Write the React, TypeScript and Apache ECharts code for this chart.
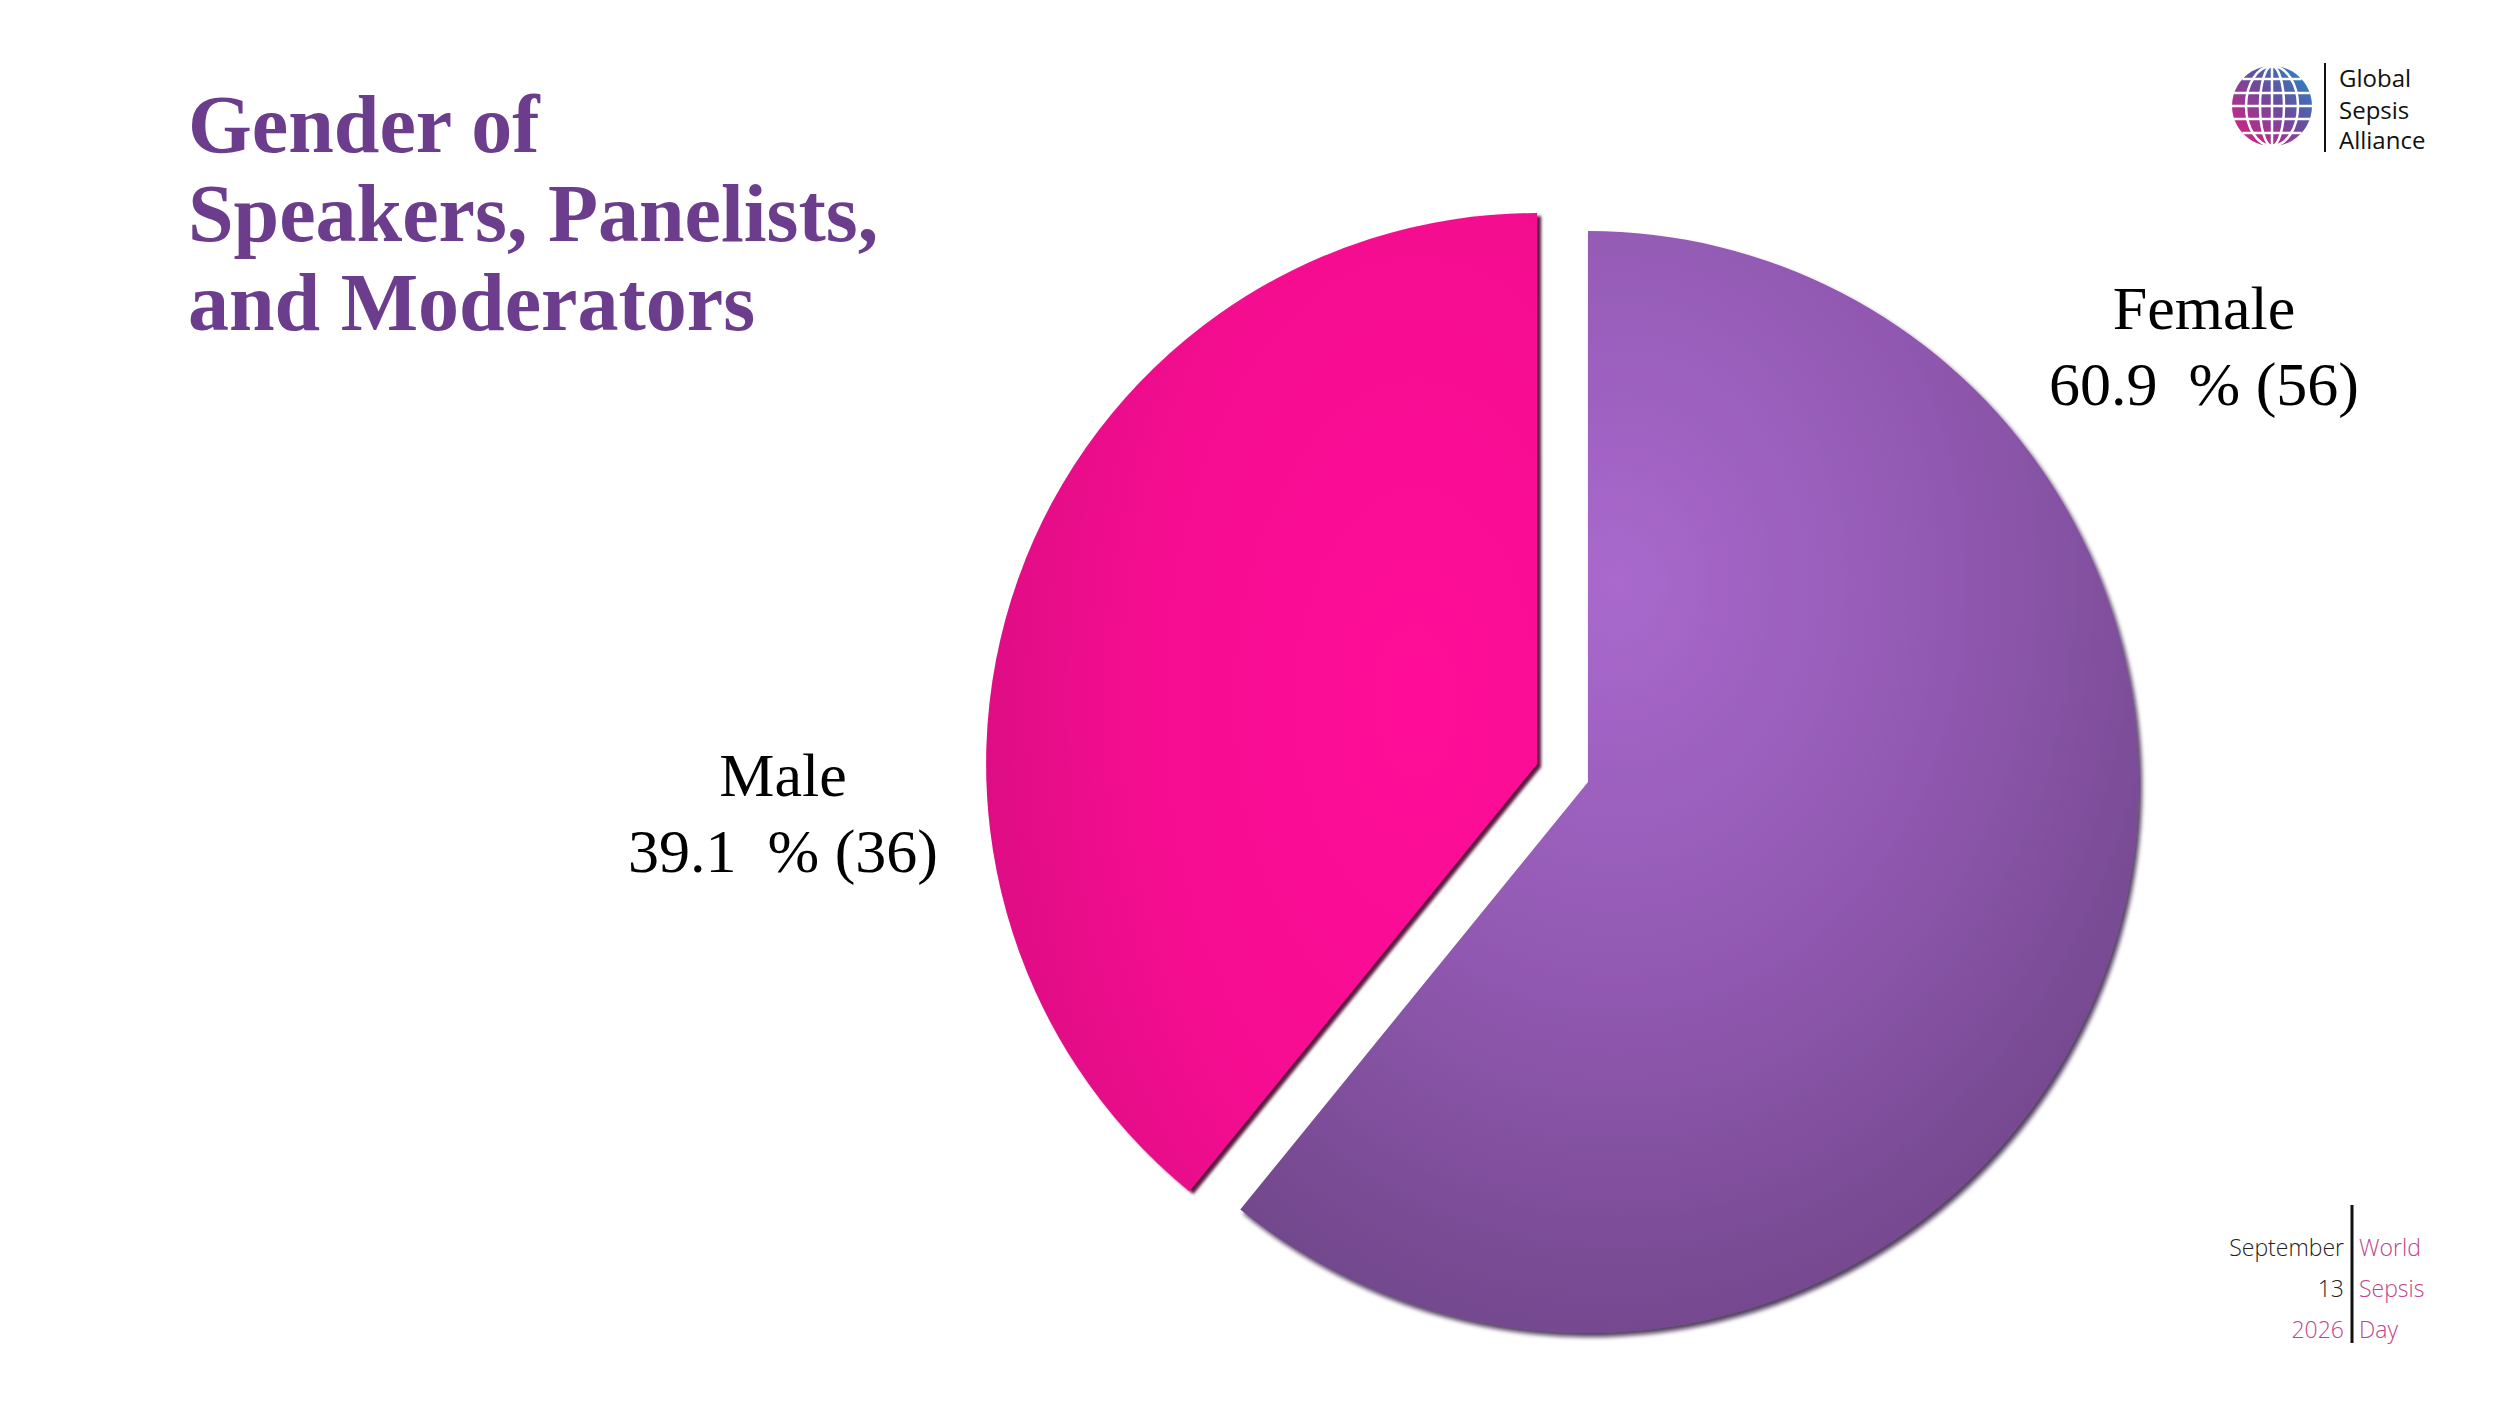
import React, { useEffect, useRef } from "react";
import * as echarts from "echarts";

// ---- data ----
const categories = ["Female", "Male"];
const counts = [56, 36];
const explodedCategory = "Male";
const titleLines = ["Gender of", "Speakers, Panelists,", "and Moderators"];
const logoLines = ["Global", "Sepsis", "Alliance"];
const dateLines = ["September", "13", "2026"];
const eventLines = ["World", "Sepsis", "Day"];

// ---- styles ----
const sliceStyles: any[] = [
  {
    color: {
      type: "radial",
      x: 0.42,
      y: 0.32,
      r: 0.85,
      colorStops: [
        { offset: 0, color: "#A969CD" },
        { offset: 0.45, color: "#9058B0" },
        { offset: 1, color: "#65407C" },
      ],
    },
    shadowColor: "rgba(40,15,55,0.8)",
    shadowBlur: 4,
    shadowOffsetX: 3,
    shadowOffsetY: 4,
  },
  {
    color: {
      type: "radial",
      x: 0.78,
      y: 0.5,
      r: 0.9,
      colorStops: [
        { offset: 0, color: "#FF0A98" },
        { offset: 0.55, color: "#F50A90" },
        { offset: 1, color: "#D60880" },
      ],
    },
    shadowColor: "rgba(70,0,40,0.9)",
    shadowBlur: 3,
    shadowOffsetX: 4,
    shadowOffsetY: 3,
  },
];

const labelAnchors = [
  { x: 2204, y: 346 },
  { x: 783, y: 813 },
];

function buildLabels(): any[] {
  const total = counts.reduce((a, b) => a + b, 0);
  return categories.map((name, i) => {
    const pct = (Math.round((counts[i] / total) * 1000) / 10).toFixed(1);
    return {
      type: "text",
      x: labelAnchors[i].x,
      y: labelAnchors[i].y,
      style: {
        text: `${name}\n${pct}  % (${counts[i]})`,
        font: "62px 'Liberation Serif'",
        lineHeight: 76,
        fill: "#000",
        align: "center",
        verticalAlign: "middle",
      },
    };
  });
}

function buildGlobe(): any[] {
  const cx = 2272;
  const cy = 106;
  const r = 40;
  const els: any[] = [
    {
      type: "circle",
      shape: { cx, cy, r },
      style: {
        fill: {
          type: "linear",
          x: 1,
          y: 0,
          x2: 0,
          y2: 1,
          colorStops: [
            { offset: 0, color: "#1B8FD0" },
            { offset: 0.45, color: "#6A4C9E" },
            { offset: 1, color: "#E8197E" },
          ],
        },
      },
    },
  ];
  [12, 26].forEach((rx) =>
    els.push({
      type: "ellipse",
      shape: { cx, cy, rx, ry: r },
      style: { fill: "none", stroke: "#fff", lineWidth: 2.5 },
    })
  );
  els.push({
    type: "line",
    shape: { x1: cx, y1: cy - r, x2: cx, y2: cy + r },
    style: { stroke: "#fff", lineWidth: 2.5 },
  });
  [-27, -13, 0, 13, 27].forEach((dy) => {
    const hw = Math.sqrt(r * r - dy * dy);
    els.push({
      type: "line",
      shape: { x1: cx - hw, y1: cy + dy, x2: cx + hw, y2: cy + dy },
      style: { stroke: "#fff", lineWidth: 2.5 },
    });
  });
  return els;
}

function buildGraphics(): any[] {
  const g: any[] = [...buildGlobe(), ...buildLabels()];
  g.push({
    type: "line",
    shape: { x1: 2325, y1: 63, x2: 2325, y2: 152 },
    style: { stroke: "#111", lineWidth: 2 },
  });
  const logoBase = [85, 117, 147];
  logoLines.forEach((t, i) =>
    g.push({
      type: "text",
      x: 2339,
      y: logoBase[i] - 8,
      style: {
        text: t,
        font: "24px 'Open Sans'",
        fill: "#111",
        align: "left",
        verticalAlign: "middle",
      },
    })
  );
  g.push({
    type: "line",
    shape: { x1: 2352, y1: 1205, x2: 2352, y2: 1343 },
    style: { stroke: "#111", lineWidth: 3 },
  });
  const footBase = [1255, 1296, 1337];
  const dateColors = ["#222", "#222", "#C0458A"];
  dateLines.forEach((t, i) =>
    g.push({
      type: "text",
      x: 2344,
      y: footBase[i] - 8,
      style: {
        text: t,
        font: "300 23px 'Open Sans'",
        fill: dateColors[i],
        align: "right",
        verticalAlign: "middle",
      },
    })
  );
  eventLines.forEach((t, i) =>
    g.push({
      type: "text",
      x: 2359,
      y: footBase[i] - 8,
      style: {
        text: t,
        font: "300 23px 'Open Sans'",
        fill: "#C0458A",
        align: "left",
        verticalAlign: "middle",
      },
    })
  );
  return g;
}

export default function App() {
  const ref = useRef<HTMLDivElement>(null);
  useEffect(() => {
    const chart = echarts.init(ref.current!, null, { renderer: "svg" });
    const option: any = {
      animation: false,
      backgroundColor: "#ffffff",
      title: {
        text: titleLines.join("\n"),
        left: 188,
        top: 80,
        padding: 0,
        textStyle: {
          fontFamily: "'Liberation Serif'",
          fontWeight: "bold",
          fontSize: 82,
          lineHeight: 89,
          color: "#6B3D8C",
        },
      },
      graphic: buildGraphics(),
      series: [
        {
          type: "pie",
          center: [1588, 782],
          radius: 551,
          startAngle: 90,
          clockwise: true,
          selectedMode: "single",
          selectedOffset: 54,
          silent: true,
          emphasis: { disabled: true },
          label: { show: false },
          labelLine: { show: false },
          data: categories.map((name, i) => ({
            name,
            value: counts[i],
            selected: name === explodedCategory,
            itemStyle: sliceStyles[i],
          })),
        },
      ],
    };
    chart.setOption(option);
    return () => chart.dispose();
  }, []);
  return (
    <div
      ref={ref}
      style={{
        position: "fixed",
        left: 0,
        top: 0,
        width: 2500,
        height: 1406,
        background: "#fff",
      }}
    />
  );
}
